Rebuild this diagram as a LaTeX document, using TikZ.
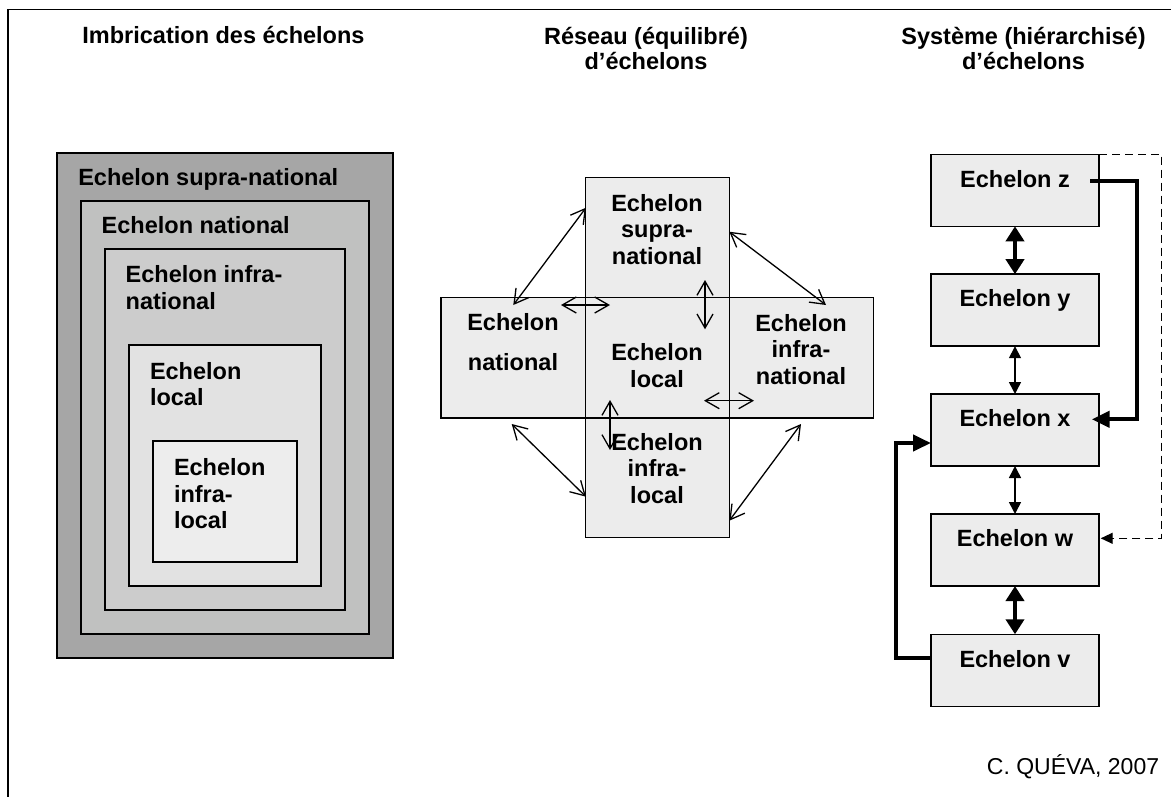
\documentclass[tikz,border=0pt]{standalone}
\usepackage{fontspec}
\setmainfont{Liberation Sans}
\usetikzlibrary{arrows.meta,fit}
\definecolor{gA}{RGB}{166,166,166}
\definecolor{gB}{RGB}{192,193,192}
\definecolor{gC}{RGB}{204,204,204}
\definecolor{gD}{RGB}{226,226,226}
\definecolor{gE}{RGB}{237,237,237}
\definecolor{cellfill}{RGB}{236,236,236}
\begin{document}
\begin{tikzpicture}[x=1pt,y=-1pt,
  txt/.style={font=\bfseries\fontsize{23.5}{26.5}\selectfont, inner sep=0pt, outer sep=0pt},
  ttl/.style={font=\bfseries\fontsize{23.5}{24.5}\selectfont, inner sep=0pt, align=center},
  outerframe/.style={draw=black, line width=1.4pt},
  nest/.style={draw=black, line width=1.8pt, inner sep=0pt, outer sep=0pt},
  cell/.style={fill=cellfill, inner sep=0pt, outer sep=0pt},
  celledge/.style={draw=black, line width=1.5pt},
  rbox/.style={draw=black, fill=cellfill, line width=1.5pt, minimum width=168pt, minimum height=72pt, inner sep=0pt, outer sep=0pt},
  barb/.style={{Straight Barb[length=14pt,width=16pt]}-{Straight Barb[length=14pt,width=16pt]}, line width=1.3pt},
  thickdbl/.style={{Triangle[length=15pt,width=18pt]}-{Triangle[length=15pt,width=18pt]}, line width=4pt},
  thindbl/.style={{Triangle[length=12pt,width=12pt]}-{Triangle[length=12pt,width=12pt]}, line width=1.5pt},
  heavy/.style={-{Triangle[length=18pt,width=16pt]}, line width=4.2pt},
  dashedarr/.style={-{Triangle[length=12pt,width=11pt]}, line width=1.3pt, dash pattern=on 8pt off 5pt}
]
\useasboundingbox (0,0) rectangle (1171,796);
\fill[white] (0,0) rectangle (1171,796);
\draw[outerframe] (8,810) -- (8,9.5) -- (1185,9.5);

% titles (base = last line)
\node[ttl, anchor=base] (t1) at (223.5,43.5) {Imbrication des échelons};
\node[ttl, anchor=base] (t2) at (646,69) {Réseau (équilibré)\\d’échelons};
\node[ttl, anchor=base] (t3) at (1023.5,69) {Système (hiérarchisé)\\d’échelons};

% nested boxes
\node[nest, fill=gA, fit={(57,153) (393,658)}] (supra) {};
\node[nest, fill=gB, fit={(81,201) (369,634)}] (nat) {};
\node[nest, fill=gC, fit={(105,249) (345,610)}] (infnat) {};
\node[nest, fill=gD, fit={(129,345) (321,586)}] (loc) {};
\node[nest, fill=gE, fit={(153,441) (297,562)}] (infloc) {};
\node[txt, anchor=base west] (lsupra) at (78.3,185.6) {Echelon supra-national};
\node[txt, anchor=base west] (lnat) at (101.7,233.6) {Echelon national};
\node[txt, anchor=base west, align=left] (linfnat) at (125.7,309.2) {Echelon infra-\\national};
\node[txt, anchor=base west, align=left] (lloc) at (150,405.5) {Echelon\\local};
\node[txt, anchor=base west, align=left] (linfloc) at (174,528.5) {Echelon\\infra-\\local};

% network
\node[cell, fit={(585.3,177.3) (729.3,537.7)}] (vert) {};
\node[cell, fit={(441,297.3) (873.7,418)}] (horiz) {};
\draw[celledge] (vert.north west) rectangle (vert.south east);
\draw[celledge] (horiz.north west) rectangle (horiz.south east);
\node[txt, anchor=base, align=center] (msupra) at (657,264) {Echelon\\supra-\\national};
\node[txt, anchor=base, align=center] (mnat) at (513,370) {Echelon\\[13.5pt]national};
\node[txt, anchor=base, align=center] (mloc) at (657,387.3) {Echelon\\local};
\node[txt, anchor=base, align=center] (minfnat) at (801,384.3) {Echelon\\infra-\\national};
\node[txt, anchor=base, align=center] (minfloc) at (657,503.3) {Echelon\\infra-\\local};

\coordinate (a1) at (513.3,305);   \coordinate (b1) at (586,207.7);
\coordinate (a2) at (729.3,231.7); \coordinate (b2) at (826,305);
\coordinate (a3) at (511.7,424);   \coordinate (b3) at (586,496.7);
\coordinate (a4) at (801,424);     \coordinate (b4) at (729.3,520.7);
\coordinate (a5) at (561,305);     \coordinate (b5) at (610,305);
\coordinate (a6) at (705,280);     \coordinate (b6) at (705,329.3);
\coordinate (a7) at (704,400.7);   \coordinate (b7) at (754,400.7);
\coordinate (a8) at (610,400);     \coordinate (b8) at (610,450);
\foreach \i in {1,...,8} {\draw[barb] (a\i) -- (b\i);}

% hierarchy
\node[rbox] (ez) at (1015,190.3) {};
\node[rbox] (ey) at (1015,310.2) {};
\node[rbox] (ex) at (1015,430) {};
\node[rbox] (ew) at (1015,550) {};
\node[rbox] (ev) at (1015,670.3) {};
\node[txt, anchor=base] (tz) at (1015,187) {Echelon z};
\node[txt, anchor=base] (ty) at (1015,306.8) {Echelon y};
\node[txt, anchor=base] (tx) at (1015,426.7) {Echelon x};
\node[txt, anchor=base] (tw) at (1015,546.7) {Echelon w};
\node[txt, anchor=base] (tv) at (1015,667) {Echelon v};

\draw[thickdbl] (ez.south) -- (ey.north);
\draw[thindbl] (ey.south) -- (ex.north);
\draw[thindbl] (ex.south) -- (ew.north);
\draw[thickdbl] (ew.south) -- (ev.north);

\coordinate (zs) at (1090,181);
\coordinate (xt) at (1091.7,419.3);
\draw[heavy] (zs) -- (1136.7,181) |- (xt);
\coordinate (vs) at (931,658.3);
\coordinate (xl) at (931,443);
\draw[heavy] (vs) -- (895.7,658.3) |- (xl);
\coordinate (wt) at (1100.7,538.3);
\draw[dashedarr] (ez.north east) -- (1161.7,154.3) |- (wt);

\node[font=\fontsize{23}{26}\selectfont, anchor=base east, inner sep=0pt] (credit) at (1159.3,774) {C. QUÉVA, 2007};
\end{tikzpicture}
\end{document}
